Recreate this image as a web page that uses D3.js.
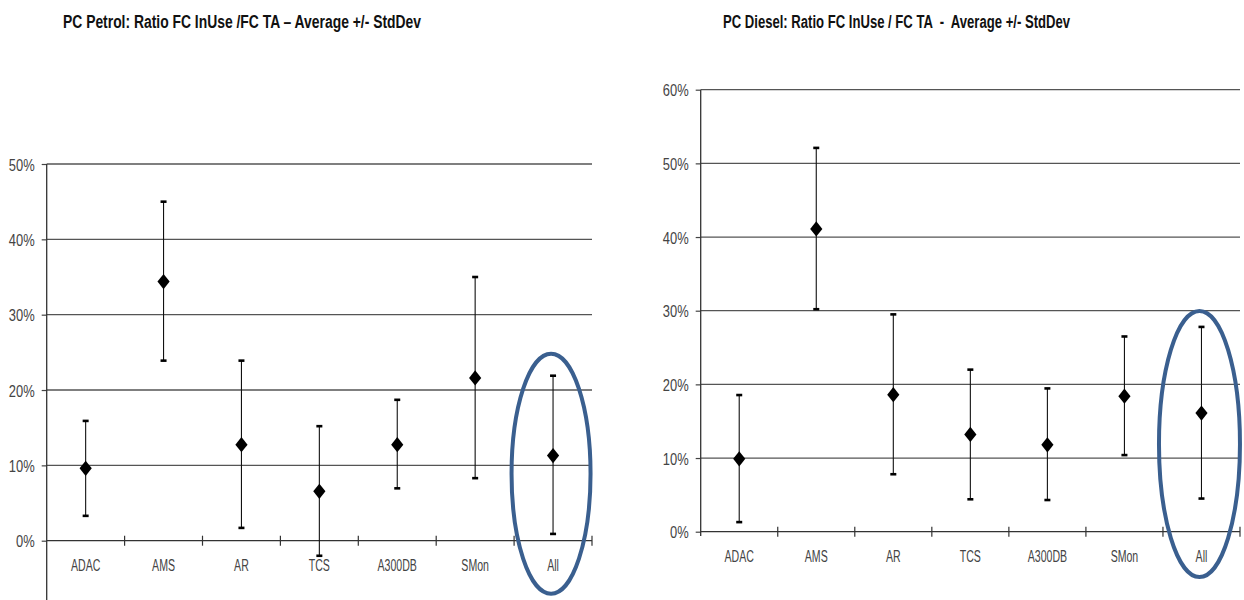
<!DOCTYPE html>
<html>
<head>
<meta charset="utf-8">
<script src="https://cdn.jsdelivr.net/npm/d3@7"></script>
<style>
  body { margin: 0; background: #fff; }
  svg text { font-family: "Liberation Sans", Arial, sans-serif; }
  svg text.title { white-space: pre; }
</style>
</head>
<body>
<svg id="chart" width="1244" height="600"></svg>
<script>
"use strict";

var categories = ['ADAC', 'AMS', 'AR', 'TCS', 'A300DB', 'SMon', 'All'];

// Petrol: average and +/- StdDev ends, as fractions
var petrol_mean = [0.096, 0.344, 0.1275, 0.0655, 0.1275, 0.216, 0.113];
var petrol_high = [0.159, 0.450, 0.239, 0.152, 0.187, 0.350, 0.219];
var petrol_low  = [0.033, 0.239, 0.017, -0.020, 0.0695, 0.083, 0.009];

// Diesel
var diesel_mean = [0.099, 0.411, 0.186, 0.132, 0.118, 0.184, 0.161];
var diesel_high = [0.1855, 0.521, 0.295, 0.220, 0.1945, 0.265, 0.278];
var diesel_low  = [0.013, 0.302, 0.078, 0.044, 0.043, 0.104, 0.045];

var petrol_ticks = [0, 0.1, 0.2, 0.3, 0.4, 0.5];
var diesel_ticks = [0, 0.1, 0.2, 0.3, 0.4, 0.5, 0.6];

var svg = d3.select('#chart');

// no narrow font installed, so squeeze the glyphs sideways
function squeeze(sel, f) {
  sel.each(function() {
    var w = this.getComputedTextLength();
    d3.select(this).attr('textLength', w * f).attr('lengthAdjust', 'spacingAndGlyphs');
  });
}

function draw_panel(opts) {
  var g = svg.append('g');
  var x = d3.scaleBand().domain(categories).range([opts.left, opts.right]);
  var y = d3.scaleLinear().domain([0, opts.max]).range([opts.bottom, opts.top]);

  // title
  g.append('text')
    .attr('class', 'title')
    .attr('x', opts.title_x)
    .attr('y', 28)
    .attr('textLength', opts.title_w)
    .attr('lengthAdjust', 'spacingAndGlyphs')
    .style('font-size', '17.5px')
    .style('font-weight', 'bold')
    .style('fill', '#111')
    .text(opts.title);

  // gridlines
  g.selectAll('line.grid')
    .data(opts.ticks.filter(function(t) { return t > 0; }))
    .enter().append('line')
    .attr('class', 'grid')
    .attr('x1', opts.left).attr('x2', opts.right)
    .attr('y1', function(d) { return y(d); })
    .attr('y2', function(d) { return y(d); })
    .attr('stroke', '#555').attr('stroke-width', 1.3);

  // y axis
  var y_axis = d3.axisLeft(y).tickValues(opts.ticks)
    .tickFormat(d3.format('.0%')).tickSize(5).tickPadding(7);
  var ya = g.append('g').attr('transform', 'translate(' + opts.left + ',0)').call(y_axis);
  ya.select('.domain').remove();
  ya.selectAll('.tick line').attr('stroke', '#444').attr('stroke-width', 1.2);
  ya.selectAll('.tick text').style('font-size', '17px').style('fill', '#444')
    .attr('dy', '0.36em').call(squeeze, 0.76);
  g.append('line')
    .attr('x1', opts.left).attr('x2', opts.left)
    .attr('y1', y(opts.max)).attr('y2', opts.axis_bottom)
    .attr('stroke', '#333').attr('stroke-width', 1.3);

  // x axis
  g.append('line')
    .attr('x1', opts.left).attr('x2', opts.right)
    .attr('y1', y(0)).attr('y2', y(0))
    .attr('stroke', '#333').attr('stroke-width', 1.3);
  g.selectAll('line.xtick')
    .data(categories.slice(1).concat(['end']))
    .enter().append('line')
    .attr('class', 'xtick')
    .attr('x1', function(d) { return d === 'end' ? opts.right : x(d); })
    .attr('x2', function(d) { return d === 'end' ? opts.right : x(d); })
    .attr('y1', y(0) - 5).attr('y2', y(0) + 5)
    .attr('stroke', '#333').attr('stroke-width', 1.2);
  g.selectAll('text.xlab')
    .data(categories)
    .enter().append('text')
    .attr('class', 'xlab')
    .attr('x', function(d) { return x(d) + x.bandwidth() / 2; })
    .attr('y', y(0) + 30)
    .attr('text-anchor', 'middle')
    .style('font-size', '16px')
    .style('fill', '#444')
    .text(function(d) { return d; })
    .call(squeeze, 0.66);

  // error bars
  var bars = g.selectAll('g.bar')
    .data(categories.map(function(c, i) {
      return { cat: c, mean: opts.mean[i], low: opts.low[i], high: opts.high[i] };
    }))
    .enter().append('g')
    .attr('class', 'bar')
    .attr('transform', function(d) { return 'translate(' + (x(d.cat) + x.bandwidth() / 2) + ',0)'; });
  bars.append('line')
    .attr('y1', function(d) { return y(d.low); })
    .attr('y2', function(d) { return y(d.high); })
    .attr('stroke', '#111').attr('stroke-width', 1.1);
  ['low', 'high'].forEach(function(k) {
    bars.append('line')
      .attr('x1', -3).attr('x2', 3)
      .attr('y1', function(d) { return y(d[k]); })
      .attr('y2', function(d) { return y(d[k]); })
      .attr('stroke', '#000').attr('stroke-width', 2.6);
  });
  bars.append('path')
    .attr('d', d3.symbol().type(d3.symbolDiamond2).size(95))
    .attr('transform', function(d) { return 'translate(0,' + y(d.mean) + ') scale(1,1.25)'; })
    .attr('fill', '#000');

  // highlight ellipse round "All"
  g.append('ellipse')
    .attr('cx', x('All') + x.bandwidth() / 2 - 2)
    .attr('cy', opts.ell_cy)
    .attr('rx', opts.ell_rx)
    .attr('ry', opts.ell_ry)
    .attr('fill', 'none')
    .attr('stroke', '#3a5f8f')
    .attr('stroke-width', 4);
}

draw_panel({
  title: 'PC Petrol: Ratio FC InUse /FC TA \u2013 Average +/- StdDev',
  title_x: 63, title_w: 358,
  left: 46.7, right: 592, top: 164, bottom: 540.7, axis_bottom: 600,
  max: 0.5, ticks: petrol_ticks,
  mean: petrol_mean, low: petrol_low, high: petrol_high,
  ell_cy: 473.7, ell_rx: 39.5, ell_ry: 120
});

draw_panel({
  title: 'PC Diesel: Ratio FC InUse / FC TA  -  Average +/- StdDev',
  title_x: 723, title_w: 347,
  left: 700.7, right: 1240, top: 89.7, bottom: 531.7, axis_bottom: 536,
  max: 0.6, ticks: diesel_ticks,
  mean: diesel_mean, low: diesel_low, high: diesel_high,
  ell_cy: 444, ell_rx: 40.5, ell_ry: 133
});
</script>
</body>
</html>
